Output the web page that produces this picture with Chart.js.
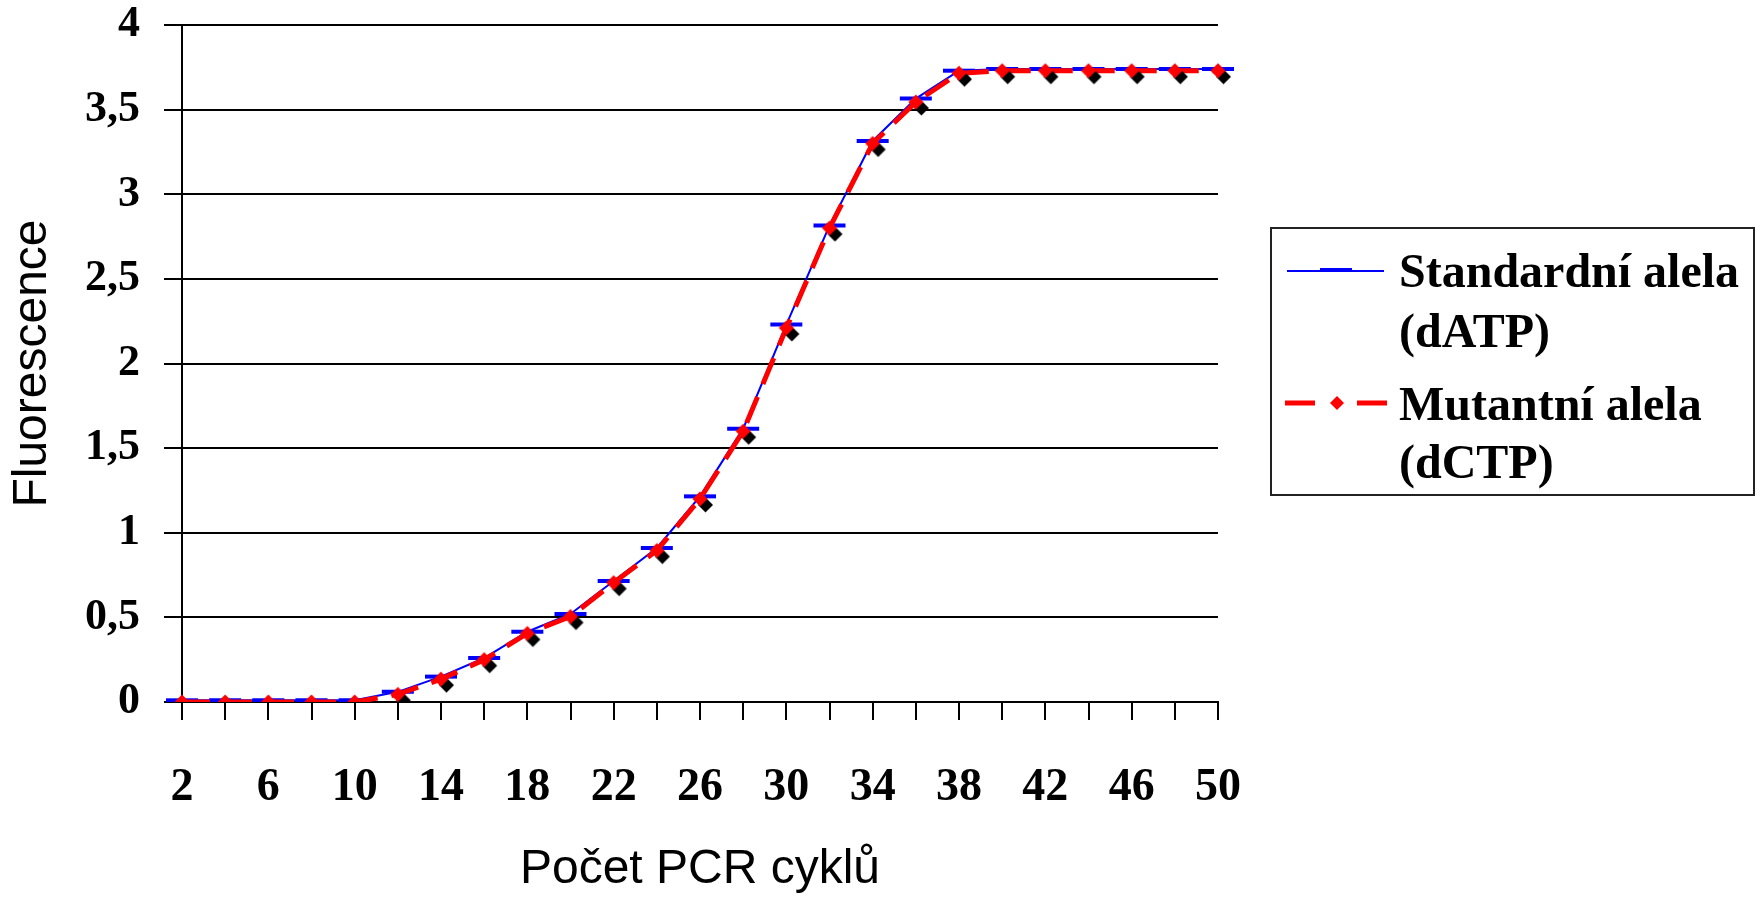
<!DOCTYPE html>
<html>
<head>
<meta charset="utf-8">
<title>Fluorescence - PCR</title>
<script src="https://cdn.jsdelivr.net/npm/chart.js@4.4.1/dist/chart.umd.min.js"></script>
<style>
    html, body { margin: 0; padding: 0; background: #fff; }
    #wrap { width: 1764px; height: 899px; position: relative; }
</style>
</head>
<body>
<div id="wrap"><canvas id="pcrChart"></canvas></div>
<script>
// Data
const cycles = [2, 4, 6, 8, 10, 12, 14, 16, 18, 20, 22, 24, 26, 28, 30, 32, 34, 36, 38, 40, 42, 44, 46, 48, 50];
const standardAlela = [0.01, 0.01, 0.01, 0.01, 0.01, 0.06, 0.15, 0.26, 0.415, 0.52, 0.715, 0.91, 1.215, 1.615, 2.23, 2.815, 3.315, 3.565, 3.73, 3.74, 3.74, 3.74, 3.74, 3.74, 3.74];
const mutantniAlela = [0, 0, 0, 0, 0, 0.045, 0.135, 0.25, 0.405, 0.505, 0.705, 0.895, 1.2, 1.6, 2.21, 2.8, 3.3, 3.545, 3.715, 3.73, 3.73, 3.73, 3.73, 3.73, 3.73];
const yTickLabels = ['0', '0,5', '1', '1,5', '2', '2,5', '3', '3,5', '4'];
const legendStandard = ['Standardní alela', '(dATP)'];
const legendMutant = ['Mutantní alela', '(dCTP)'];

const BLUE = '#0000ff';
const RED = '#ff0000';

// Kosočtverec se stínem (červený + černý posunutý)
function makeDiamond() {
    const c = document.createElement('canvas');
    c.width = 32;
    c.height = 32;
    const g = c.getContext('2d');
    function diamond(cx, cy, r, color) {
        g.beginPath();
        g.moveTo(cx, cy - r);
        g.lineTo(cx + r, cy);
        g.lineTo(cx, cy + r);
        g.lineTo(cx - r, cy);
        g.closePath();
        g.fillStyle = color;
        g.fill();
    }
    diamond(21.5, 22, 7.5, '#000');
    diamond(16, 16, 7.5, RED);
    return c;
}

// Vlastní legenda (dvouřádkové popisky)
const boxLegend = {
    id: 'boxLegend',
    afterDraw(chart) {
        const ctx = chart.ctx;
        ctx.save();
        ctx.strokeStyle = '#222';
        ctx.lineWidth = 2;
        ctx.strokeRect(1271, 228, 483, 267);

        // standardní alela
        ctx.strokeStyle = BLUE;
        ctx.lineWidth = 2;
        ctx.beginPath();
        ctx.moveTo(1287, 271);
        ctx.lineTo(1384, 271);
        ctx.stroke();
        ctx.lineWidth = 4;
        ctx.beginPath();
        ctx.moveTo(1320, 270);
        ctx.lineTo(1352, 270);
        ctx.stroke();

        // mutantní alela
        ctx.strokeStyle = RED;
        ctx.lineWidth = 5;
        ctx.beginPath();
        ctx.moveTo(1285, 403);
        ctx.lineTo(1315, 403);
        ctx.moveTo(1357, 403);
        ctx.lineTo(1387, 403);
        ctx.stroke();
        ctx.fillStyle = RED;
        ctx.beginPath();
        ctx.moveTo(1337, 396);
        ctx.lineTo(1344, 403);
        ctx.lineTo(1337, 410);
        ctx.lineTo(1330, 403);
        ctx.closePath();
        ctx.fill();

        ctx.fillStyle = '#000';
        ctx.font = 'bold 48px "Liberation Serif", serif';
        ctx.textAlign = 'left';
        ctx.textBaseline = 'alphabetic';
        ctx.fillText(legendStandard[0], 1399, 287);
        ctx.fillText(legendStandard[1], 1399, 347);
        ctx.fillText(legendMutant[0], 1399, 420);
        ctx.fillText(legendMutant[1], 1399, 478);
        ctx.restore();
    }
};

const ctx = document.getElementById('pcrChart').getContext('2d');
new Chart(ctx, {
    type: 'line',
    data: {
        labels: cycles,
        datasets: [{
            label: legendStandard.join(' '),
            data: standardAlela,
            order: 2,
            borderColor: BLUE,
            borderWidth: 2,
            tension: 0,
            pointStyle: 'line',
            pointRadius: 16,
            pointBorderWidth: 4,
            pointBorderColor: BLUE,
            pointBackgroundColor: BLUE
        }, {
            label: legendMutant.join(' '),
            data: mutantniAlela,
            order: 1,
            borderColor: RED,
            borderWidth: 5,
            borderDash: [28, 14],
            tension: 0,
            pointStyle: makeDiamond(),
            pointRadius: 8
        }]
    },
    options: {
        responsive: true,
        maintainAspectRatio: false,
        animation: false,
        events: [],
        layout: {
            padding: { left: 0, right: 546, top: 25, bottom: 0 }
        },
        plugins: {
            legend: { display: false },
            tooltip: { enabled: false },
            title: { display: false }
        },
        scales: {
            x: {
                type: 'category',
                offset: false,
                afterFit: function (scale) { scale.height = 197; },
                title: {
                    display: true,
                    text: 'Počet PCR cyklů',
                    color: '#000',
                    font: { family: '"Liberation Sans", Arial, sans-serif', size: 48 },
                    padding: { top: 0, bottom: 0 }
                },
                ticks: {
                    autoSkip: false,
                    maxRotation: 0,
                    minRotation: 0,
                    padding: 45,
                    color: '#000',
                    font: { family: '"Liberation Serif", serif', size: 46, weight: 'bold', lineHeight: 1 },
                    callback: function (value, index) {
                        return index % 2 === 0 ? String(cycles[index]) : '';
                    }
                },
                grid: {
                    drawOnChartArea: false,
                    drawTicks: true,
                    tickLength: 18,
                    color: '#000',
                    lineWidth: 2
                },
                border: { display: true, color: '#000', width: 2 }
            },
            y: {
                min: 0,
                max: 4,
                afterFit: function (scale) {
                    scale.width = 182;
                    // popisky nemají posouvat plochu grafu
                    scale.paddingTop = 0;
                    scale.paddingBottom = 0;
                },
                title: {
                    display: true,
                    text: 'Fluorescence',
                    color: '#000',
                    font: { family: '"Liberation Sans", Arial, sans-serif', size: 48 },
                    padding: { top: 4, bottom: 0 }
                },
                ticks: {
                    stepSize: 0.5,
                    padding: 24,
                    color: '#000',
                    font: { family: '"Liberation Serif", serif', size: 44, weight: 'bold', lineHeight: 1 },
                    callback: function (value, index) {
                        return yTickLabels[index];
                    }
                },
                grid: {
                    color: '#000',
                    lineWidth: 2,
                    tickLength: 18
                },
                border: { display: true, color: '#000', width: 2 }
            }
        }
    },
    plugins: [boxLegend]
});
</script>
</body>
</html>
